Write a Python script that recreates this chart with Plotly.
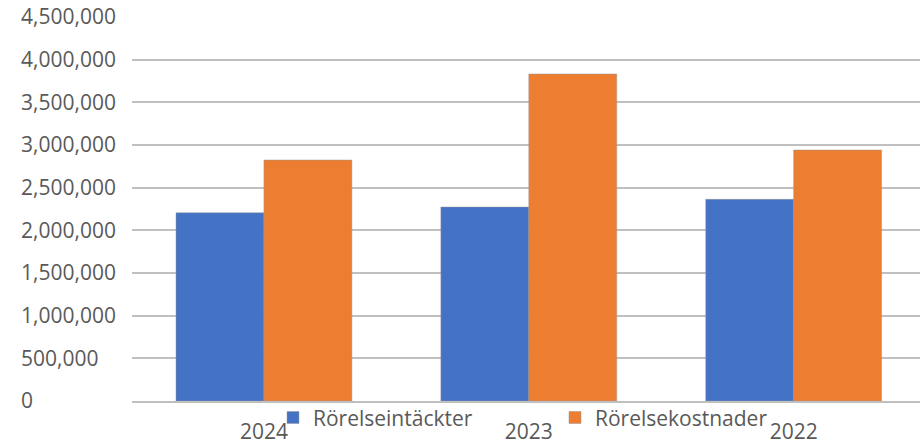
import plotly.graph_objects as go

years = ["2024", "2023", "2022"]
intakter = [2206000, 2273000, 2363000]
kostnader = [2824000, 3832000, 2941000]
series_names = ["Rörelseintäckter", "Rörelsekostnader"]
y_ticks = [0, 500000, 1000000, 1500000, 2000000, 2500000, 3000000, 3500000, 4000000, 4500000]
y_tick_text = ["0", "500,000", "1,000,000", "1,500,000", "2,000,000", "2,500,000",
               "3,000,000", "3,500,000", "4,000,000", "4,500,000"]

FONT = "Open Sans"
TXT = "#595959"
FS = 21

fig = go.Figure()
fig.add_trace(go.Bar(x=years, y=intakter, name=series_names[0],
                     marker=dict(color="#4472C4", line=dict(color="rgba(150,150,150,0.6)", width=0.8))))
fig.add_trace(go.Bar(x=years, y=kostnader, name=series_names[1],
                     marker=dict(color="#ED7D31", line=dict(color="rgba(150,150,150,0.6)", width=0.8))))

fig.update_layout(
    width=920, height=440,
    margin=dict(l=0, r=0, t=17, b=39, autoexpand=False),
    paper_bgcolor="white", plot_bgcolor="white",
    barmode="group", bargap=0.336, bargroupgap=0,
    font=dict(family=FONT, size=FS, color=TXT),
    showlegend=True,
    legend=dict(orientation="h", x=273 / 920, xanchor="left", y=-0.044, yanchor="middle",
                entrywidth=237, entrywidthmode="pixels",
                font=dict(family=FONT, size=FS, color=TXT), bgcolor="rgba(0,0,0,0)",
                itemwidth=30, traceorder="normal"),
    xaxis=dict(domain=[131.5 / 920, 1], range=[-0.5, 2.477], showgrid=False, showline=True,
               linecolor="#bfbfbf", linewidth=1.5, ticks="", ticklabelstandoff=11,
               automargin=False, tickfont=dict(family=FONT, size=FS, color=TXT)),
    yaxis=dict(range=[0, 4500000], tickvals=y_ticks, ticktext=y_tick_text,
               anchor="free", position=0, side="right",
               showgrid=True, gridcolor="#c0c0c0", gridwidth=1.8, zeroline=False,
               showline=False, ticks="", ticklabelstandoff=20, automargin=False,
               tickfont=dict(family=FONT, size=FS, color=TXT)),
)

fig.write_html("out.html")
